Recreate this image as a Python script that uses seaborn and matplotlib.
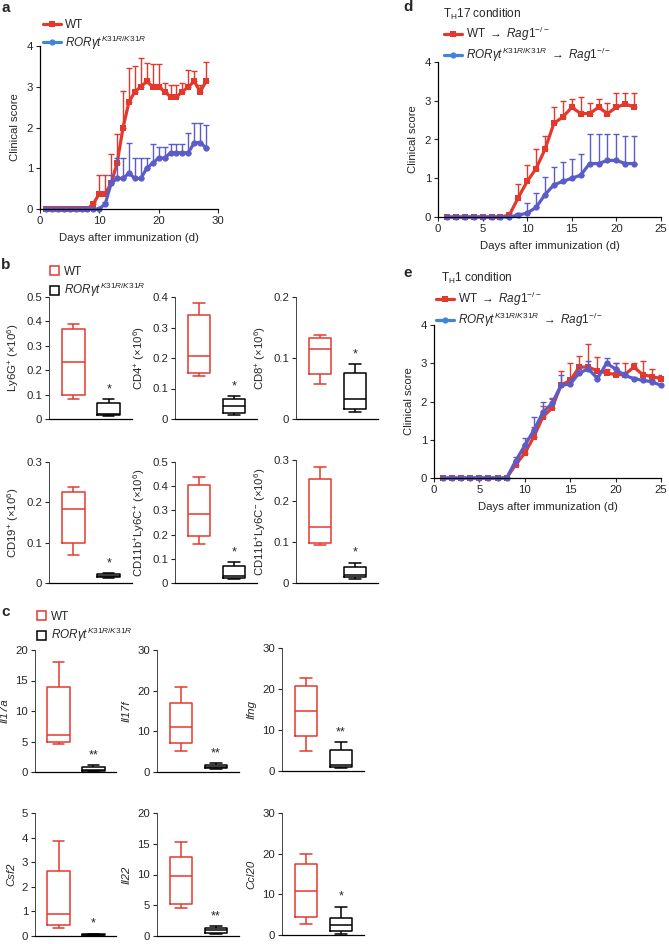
import numpy as np
import pandas as pd
import matplotlib
matplotlib.use("Agg")
import matplotlib.pyplot as plt
import seaborn as sns
from matplotlib.lines import Line2D
from matplotlib.patches import Patch
from matplotlib.ticker import FuncFormatter

# -----------------------------------
# Data: clinical scores (mean, upper SEM)
# -----------------------------------

days_a = list(range(1, 29))
wt_a = [0, 0, 0, 0, 0, 0, 0, 0, 0.13, 0.38, 0.38, 0.63, 1.13, 2.0, 2.63, 2.88, 3.0, 3.13,
        3.0, 3.0, 2.88, 2.75, 2.75, 2.88, 3.0, 3.13, 2.88, 3.13]
wt_a_err = [0, 0, 0, 0, 0, 0, 0, 0, 0.05, 0.45, 0.45, 0.72, 0.72, 0.9, 0.84, 0.62, 0.7, 0.45,
            0.57, 0.57, 0.22, 0.3, 0.3, 0.22, 0.4, 0.25, 0.17, 0.47]
ror_a = [0, 0, 0, 0, 0, 0, 0, 0, 0, 0, 0.13, 0.63, 0.75, 0.75, 0.88, 0.75, 0.75, 1.0,
         1.13, 1.25, 1.25, 1.38, 1.38, 1.38, 1.38, 1.63, 1.63, 1.5]
ror_a_err = [0, 0, 0, 0, 0, 0, 0, 0, 0, 0, 0.05, 0.2, 0.5, 0.5, 0.74, 0.5, 0.5, 0.25,
             0.47, 0.27, 0.27, 0.22, 0.22, 0.22, 0.49, 0.47, 0.47, 0.57]

days_d = list(range(1, 23))
wt_d = [0, 0, 0, 0, 0, 0, 0, 0.05, 0.5, 0.92, 1.25, 1.75, 2.42, 2.58, 2.83, 2.67, 2.67,
        2.83, 2.67, 2.83, 2.92, 2.83]
wt_d_err = [0, 0, 0, 0, 0, 0, 0, 0.05, 0.35, 0.43, 0.5, 0.35, 0.41, 0.42, 0.22, 0.43, 0.28,
            0.22, 0.28, 0.37, 0.28, 0.37]
ror_d = [0, 0, 0, 0, 0, 0, 0, 0, 0.05, 0.1, 0.25, 0.58, 0.83, 0.92, 1.0, 1.08, 1.38,
         1.38, 1.46, 1.46, 1.38, 1.38]
ror_d_err = [0, 0, 0, 0, 0, 0, 0, 0, 0.05, 0.25, 0.38, 0.45, 0.47, 0.5, 0.5, 0.55, 0.77,
             0.77, 0.69, 0.69, 0.7, 0.7]

days_e = list(range(1, 26))
wt_e = [0, 0, 0, 0, 0, 0, 0, 0, 0.35, 0.65, 1.08, 1.6, 1.83, 2.43, 2.55, 2.9, 2.9, 2.8,
        2.75, 2.7, 2.7, 2.9, 2.7, 2.65, 2.6]
wt_e_err = [0, 0, 0, 0, 0, 0, 0, 0, 0.1, 0.1, 0.25, 0.28, 0.23, 0.37, 0.45, 0.3, 0.6, 0.37,
            0.1, 0.3, 0.3, 0.1, 0.35, 0.2, 0.1]
ror_e = [0, 0, 0, 0, 0, 0, 0, 0, 0.45, 0.85, 1.25, 1.72, 1.95, 2.43, 2.45, 2.75, 2.85, 2.6,
         3.0, 2.85, 2.68, 2.6, 2.55, 2.52, 2.42]
ror_e_err = [0, 0, 0, 0, 0, 0, 0, 0, 0.1, 0.2, 0.35, 0.27, 0.15, 0.25, 0.15, 0.15, 0.2, 0.1,
             0.15, 0.15, 0.1, 0.05, 0.05, 0.05, 0.05]

# -----------------------------------
# Data: box plots [min, q1, median, q3, max]
# -----------------------------------

ly6g_wt = [0.08, 0.10, 0.235, 0.37, 0.39]
ly6g_ror = [0.012, 0.015, 0.02, 0.065, 0.082]
cd4_wt = [0.14, 0.152, 0.207, 0.342, 0.38]
cd4_ror = [0.013, 0.021, 0.043, 0.065, 0.075]
cd8_wt = [0.058, 0.073, 0.115, 0.132, 0.138]
cd8_ror = [0.011, 0.016, 0.033, 0.075, 0.09]
cd19_wt = [0.07, 0.098, 0.184, 0.225, 0.239]
cd19_ror = [0.012, 0.015, 0.018, 0.022, 0.025]
ly6cp_wt = [0.16, 0.193, 0.286, 0.405, 0.437]
ly6cp_ror = [0.018, 0.022, 0.03, 0.07, 0.086]
ly6cn_wt = [0.093, 0.097, 0.137, 0.253, 0.282]
ly6cn_ror = [0.01, 0.015, 0.02, 0.04, 0.05]

il17a_wt = [4.6, 4.97, 6.07, 13.9, 18.08]
il17a_ror = [0.1, 0.16, 0.33, 0.87, 1.15]
il17f_wt = [5.25, 7.2, 11.0, 16.9, 21.0]
il17f_ror = [0.8, 1.0, 1.3, 1.8, 2.1]
ifng_wt = [5.0, 8.6, 14.7, 20.7, 22.8]
ifng_ror = [0.7, 1.0, 1.4, 5.2, 7.1]
csf2_wt = [0.31, 0.43, 0.89, 2.64, 3.87]
csf2_ror = [0.02, 0.03, 0.05, 0.08, 0.1]
il22_wt = [4.5, 5.2, 9.7, 12.9, 15.3]
il22_ror = [0.37, 0.5, 1.0, 1.3, 1.6]
ccl20_wt = [2.7, 4.5, 10.9, 17.4, 19.9]
ccl20_ror = [0.3, 1.0, 2.5, 4.3, 7.0]

# -----------------------------------
# Style
# -----------------------------------

sns.set_style("ticks")
plt.rcParams["font.family"] = ["Liberation Sans", "DejaVu Sans"]
plt.rcParams["mathtext.fontset"] = "custom"
plt.rcParams["mathtext.rm"] = "Liberation Sans"
plt.rcParams["mathtext.it"] = "Liberation Sans:italic"
plt.rcParams["mathtext.bf"] = "Liberation Sans:bold"
plt.rcParams["font.size"] = 8.2
plt.rcParams["axes.labelsize"] = 8.2

FS = 8.2
RED = "#e3392d"
BLUE = "#5a5cc8"
LEG_BLUE = "#4285d6"

W, H = 669, 944
fig = plt.figure(figsize=(W / 100, H / 100), dpi=100)


def add_ax(left, top, right, bottom):
    return fig.add_axes([left / W, 1 - bottom / H, (right - left) / W, (bottom - top) / H])


def style_ax(ax):
    sns.despine(ax=ax)
    ax.tick_params(direction="out", length=3, width=0.8, labelsize=FS, pad=2)
    for s in ("left", "bottom"):
        ax.spines[s].set_linewidth(0.9)
        ax.spines[s].set_color("black")


def line_panel(ax, days, wt, wt_err, ror, ror_err, xmax, xticks):
    for vals, errs, col, mk in ((wt, wt_err, RED, "s"), (ror, ror_err, BLUE, "o")):
        d = np.array(days)
        v = np.array(vals)
        e = np.array(errs)
        m = e > 0
        ax.errorbar(d[m], v[m], yerr=[np.zeros(m.sum()), e[m]], fmt="none",
                    ecolor=col, elinewidth=1, capsize=2.5, capthick=1)
        sns.lineplot(x=d, y=v, color=col, marker=mk, markersize=4.5,
                     markeredgewidth=0, linewidth=2.3, ax=ax)
        ax.lines[-1].set_clip_on(False)
    ax.set_xlim(0, xmax)
    ax.set_ylim(0, 4)
    ax.set_xticks(xticks)
    ax.set_yticks([0, 1, 2, 3, 4])
    ax.set_ylabel("Clinical score", labelpad=5)
    ax.set_xlabel("Days after immunization (d)", labelpad=5)
    style_ax(ax)


def box_panel(ax, wt, ror, ylabel, top, step, stars, italic=False):
    df = pd.DataFrame({
        "group": ["WT"] * len(wt) + ["ROR"] * len(ror),
        "value": wt + ror,
    })
    sns.boxplot(data=df, x="group", y="value", hue="group",
                order=["WT", "ROR"], hue_order=["WT", "ROR"],
                palette={"WT": RED, "ROR": "black"}, fill=False,
                whis=(0, 100), width=0.65, linewidth=1.1, legend=False, ax=ax)
    ax.set_xlim(-0.686, 1.657)
    ax.set_ylim(0, top)
    ax.set_yticks(np.arange(0, top + step / 2, step))
    ax.yaxis.set_major_formatter(FuncFormatter(lambda v, p: f"{round(v, 2):g}"))
    ax.set_xticks([])
    ax.set_xlabel("")
    ax.set_ylabel(ylabel, fontstyle="italic" if italic else "normal", labelpad=4)
    style_ax(ax)
    ax.spines["left"].set_color("#444444")
    ax.spines["left"].set_linewidth(0.7)
    ax.text(1, max(ror) + 0.03 * top, stars, ha="center", va="bottom", fontsize=9)


# -----------------------------------
# Panel a
# -----------------------------------

ax_a = add_ax(40, 46, 218, 209)
line_panel(ax_a, days_a, wt_a, wt_a_err, ror_a, ror_a_err, 30, [0, 10, 20, 30])

ror_label = r"$\mathit{ROR\gamma t}^{\mathit{K31R/K31R}}$"
line_handles = [
    Line2D([0], [0], color=RED, marker="s", lw=2.3, ms=4.5, mew=0),
    Line2D([0], [0], color=LEG_BLUE, marker="o", lw=2.3, ms=4.5, mew=0),
]
leg_kw = dict(loc="upper left", frameon=False, handlelength=1.5, handletextpad=0.4,
              labelspacing=0.2, borderpad=0, borderaxespad=0, fontsize=8.5)
fig.legend(line_handles, ["WT", ror_label], bbox_to_anchor=(43 / W, 1 - 19 / H), **leg_kw)

# -----------------------------------
# Panel d
# -----------------------------------

ax_d = add_ax(438, 62, 661, 217)
line_panel(ax_d, days_d, wt_d, wt_d_err, ror_d, ror_d_err, 25, [0, 5, 10, 15, 20, 25])
arrow_lab = r" $\rightarrow$ $\mathit{Rag1}^{-/-}$"
fig.text(443 / W, 1 - 14 / H, r"T$_{\mathrm{H}}$17 condition", fontsize=8.5, va="center")
fig.legend(line_handles, ["WT" + arrow_lab, ror_label + arrow_lab],
           bbox_to_anchor=(444 / W, 1 - 25 / H), **leg_kw)

# -----------------------------------
# Panel e
# -----------------------------------

ax_e = add_ax(434, 325, 661, 478)
line_panel(ax_e, days_e, wt_e, wt_e_err, ror_e, ror_e_err, 25, [0, 5, 10, 15, 20, 25])
fig.text(441 / W, 1 - 278 / H, r"T$_{\mathrm{H}}$1 condition", fontsize=8.5, va="center")
fig.legend(line_handles, ["WT" + arrow_lab, ror_label + arrow_lab],
           bbox_to_anchor=(436 / W, 1 - 290 / H), **leg_kw)

# -----------------------------------
# Panel b
# -----------------------------------

box_handles = [
    Patch(facecolor="white", edgecolor=RED, linewidth=1.1),
    Patch(facecolor="white", edgecolor="black", linewidth=1.1),
]
box_leg_kw = dict(loc="upper left", frameon=False, handlelength=0.8, handleheight=0.8,
                  handletextpad=0.4, labelspacing=0.25, borderpad=0, borderaxespad=0,
                  fontsize=8.5)
fig.legend(box_handles, ["WT", ror_label], bbox_to_anchor=(50 / W, 1 - 266 / H), **box_leg_kw)

box_panel(add_ax(49, 297, 132, 419), ly6g_wt, ly6g_ror,
          r"Ly6G$^{+}$ (×10$^{6}$)", 0.5, 0.1, "*")
box_panel(add_ax(175, 297, 257, 419), cd4_wt, cd4_ror,
          r"CD4$^{+}$ (×10$^{6}$)", 0.4, 0.1, "*")
box_panel(add_ax(296, 297, 378, 419), cd8_wt, cd8_ror,
          r"CD8$^{+}$ (×10$^{6}$)", 0.2, 0.1, "*")
box_panel(add_ax(49, 462, 132, 583), cd19_wt, cd19_ror,
          r"CD19$^{+}$ (×10$^{6}$)", 0.3, 0.1, "*")
box_panel(add_ax(175, 462, 257, 583), ly6cp_wt, ly6cp_ror,
          r"CD11b$^{+}$Ly6C$^{+}$ (×10$^{6}$)", 0.5, 0.1, "*")
box_panel(add_ax(296, 460, 378, 583), ly6cn_wt, ly6cn_ror,
          r"CD11b$^{+}$Ly6C$^{-}$ (×10$^{6}$)", 0.3, 0.1, "*")

# -----------------------------------
# Panel c
# -----------------------------------

fig.legend(box_handles, ["WT", ror_label], bbox_to_anchor=(37 / W, 1 - 611 / H), **box_leg_kw)

box_panel(add_ax(35, 650, 116, 772), il17a_wt, il17a_ror, "Il17a", 20, 5, "**", italic=True)
box_panel(add_ax(157, 650, 239, 772), il17f_wt, il17f_ror, "Il17f", 30, 10, "**", italic=True)
box_panel(add_ax(282, 648, 364, 771), ifng_wt, ifng_ror, "Ifng", 30, 10, "**", italic=True)
box_panel(add_ax(35, 813, 116, 936), csf2_wt, csf2_ror, "Csf2", 5, 1, "*", italic=True)
box_panel(add_ax(157, 813, 239, 936), il22_wt, il22_ror, "Il22", 20, 5, "**", italic=True)
box_panel(add_ax(282, 813, 364, 935), ccl20_wt, ccl20_ror, "Ccl20", 30, 10, "*", italic=True)

# -----------------------------------
# Panel letters
# -----------------------------------

for lab, x, y in (("a", 1, 8), ("b", 1, 265), ("c", 1, 612), ("d", 403, 7), ("e", 403, 273)):
    fig.text(x / W, 1 - y / H, lab, fontsize=11, fontweight="bold", va="center", ha="left")

fig.savefig("out.png", dpi=100)
